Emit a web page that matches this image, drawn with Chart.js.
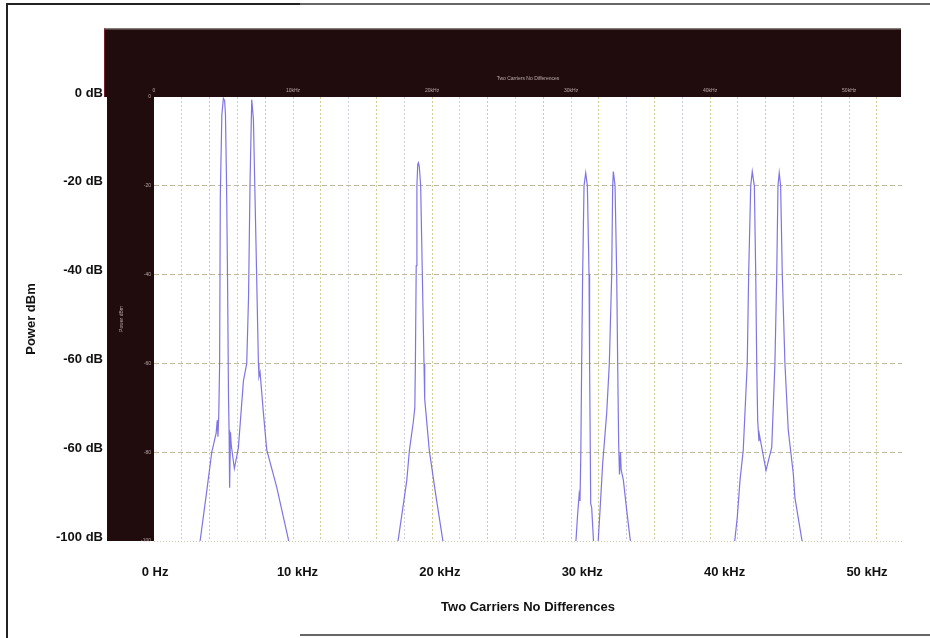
<!DOCTYPE html>
<html>
<head>
<meta charset="utf-8">
<title>Two Carriers No Differences</title>
<script src="https://cdn.jsdelivr.net/npm/chart.js@4.4.1/dist/chart.umd.min.js"></script>
<style>
  html, body { margin: 0; padding: 0; background: #ffffff; }
  #wrap { width: 930px; height: 638px; }
</style>
</head>
<body>
<div id="wrap"><canvas id="spectrum" width="930" height="638"></canvas></div>
<script>
// Measured spectrum: frequency (kHz) and power (dB)
const freqKHz = [
  3.0, 3.32, 3.80, 4.16, 4.47, 4.55, 4.60, 4.66, 4.72, 4.77, 4.88, 4.99, 5.08, 5.14, 5.22, 5.29,
  5.36, 5.40, 5.44, 5.50, 5.56, 5.78, 6.07, 6.43, 6.67, 6.80, 6.91, 7.03, 7.15, 7.34, 7.51, 7.55,
  7.63, 7.87, 8.11, 8.83, 9.66, 10.0,
  17.2, 17.58, 18.18, 18.37, 18.65, 18.76, 18.80, 18.86, 18.91, 18.97, 19.02, 19.08, 19.18, 19.30,
  19.42, 19.47, 19.80, 20.29, 20.75, 21.1,
  30.2, 30.36, 30.47, 30.58, 30.64, 30.70, 30.76, 30.83, 30.93, 31.05, 31.17, 31.29, 31.33, 31.41,
  31.48, 31.62, 31.72, 31.85, 31.96, 32.08, 32.27, 32.56, 32.75, 32.92, 32.99, 33.04, 33.16, 33.28,
  33.35, 33.42, 33.48, 33.55, 33.60, 33.76, 34.0, 34.24, 34.6,
  41.5, 41.79, 41.95, 42.15, 42.38, 42.67, 42.77, 42.92, 43.03, 43.18, 43.28, 43.35, 43.42, 43.51,
  43.54, 44.02, 44.43, 44.66, 44.79, 44.88, 44.97, 45.07, 45.19, 45.38, 45.62, 45.98, 46.10, 46.58,
  47.0
];
const powerDb = [
  -106, -99.9, -88.6, -79.9, -75.7, -72.8, -76.5, -71.5, -60, -22, -4, -0.3, -0.8, -4, -20, -41,
  -68, -75, -88, -75.5, -78.5, -83.7, -79, -64, -60, -45, -18.7, -0.6, -5, -33.7, -60, -63,
  -62, -71.2, -79.5, -87.9, -99.6, -106,
  -106, -99.4, -86.4, -79.6, -73.2, -70, -60, -38, -20, -15.2, -14.8, -15.6, -20, -40,
  -60, -68, -79.6, -90.1, -99.4, -106,
  -106, -99.4, -94, -89.5, -91, -80, -60, -40, -20, -17.1, -20, -40, -60, -91.6,
  -92.5, -100.5, -104, -104, -99.4, -93.1, -82.6, -71.2, -60, -40, -20, -16.8, -20, -40,
  -60, -78, -85, -80, -84, -86.3, -93.1, -99.4, -106,
  -106, -99.4, -94.7, -86.3, -79.6, -60, -40, -20, -16.8, -20, -40, -60, -72.8, -77.5,
  -76, -84.1, -78.9, -60, -40, -20, -17.1, -20, -40, -60, -75.1, -84.8, -90.3, -99.4,
  -106
];

// Printed axis ticks and labels
const outerFreqTicks = [0, 10, 20, 30, 40, 50];
const outerFreqLabels = ['0 Hz', '10 kHz', '20 kHz', '30 kHz', '40 kHz', '50 kHz'];
const powerTicks = [-100, -80, -60, -40, -20, 0];
const powerLabels = ['-100 dB', '-60 dB', '-60 dB', '-40 dB', '-20 dB', '0 dB'];
const innerPowerLabels = ['-100', '-80', '-60', '-40', '-20', '0'];
// Instrument grid (every 2 kHz) and its small scale labels
const gridFreqTicks = [0, 2, 4, 6, 8, 10, 12, 14, 16, 18, 20, 22, 24, 26, 28, 30, 32, 34, 36, 38, 40, 42, 44, 46, 48, 50, 52];
const innerFreqTicks = [0, 10, 20, 30, 40, 50];
const innerFreqLabels = ['0', '10kHz', '20kHz', '30kHz', '40kHz', '50kHz'];

const points = freqKHz.map((f, i) => ({ x: f, y: powerDb[i] }));

const FONT = '"Liberation Sans", Arial, Helvetica, sans-serif';
const bigFont = { family: FONT, size: 13, weight: 'bold' };
const tinyFont = { family: FONT, size: 5 };
const tinyColor = 'rgba(225,210,210,0.75)';

function labelFor(ticks, labels, v) {
  const i = ticks.findIndex(t => Math.abs(t - v) < 1e-6);
  return i < 0 ? '' : labels[i];
}

// Dark instrument frame behind the plot, and the page border
const framePlugin = {
  id: 'instrumentFrame',
  beforeDraw(chart) {
    const { ctx, chartArea: a, scales } = chart;
    ctx.save();
    ctx.fillStyle = '#ffffff';
    ctx.fillRect(0, 0, chart.width, chart.height);
    const left = scales.y.left;
    const top = scales.x.top;
    ctx.fillStyle = '#210c0d';
    ctx.fillRect(left - 3, top, a.right - left + 2, a.top - top);
    ctx.fillRect(left, top, a.left - left, a.bottom - top);
    ctx.fillStyle = 'rgba(160,150,150,0.8)';
    ctx.fillRect(left - 3, top, a.right - left + 2, 1.5);
    ctx.fillStyle = 'rgba(150,40,60,0.7)';
    ctx.fillRect(left - 3, top, 1, a.top - top);
    ctx.fillStyle = '#ffffff';
    ctx.fillRect(a.left, a.top, a.right - a.left, a.bottom - a.top);
    ctx.restore();
  },
  afterDraw(chart) {
    const { ctx } = chart;
    ctx.save();
    ctx.strokeStyle = '#222222';
    ctx.lineWidth = 2;
    ctx.beginPath();
    ctx.moveTo(7, chart.height);
    ctx.lineTo(7, 4);
    ctx.lineTo(300, 4);
    ctx.stroke();
    ctx.strokeStyle = '#666666';
    ctx.beginPath();
    ctx.moveTo(300, 4);
    ctx.lineTo(chart.width, 4);
    ctx.moveTo(300, chart.height - 3);
    ctx.lineTo(chart.width, chart.height - 3);
    ctx.stroke();
    ctx.restore();
  }
};

new Chart(document.getElementById('spectrum'), {
  type: 'line',
  data: {
    datasets: [{
      label: 'Power',
      data: points,
      borderColor: 'rgba(112,102,226,0.9)',
      borderWidth: 1.2,
      pointRadius: 0,
      tension: 0,
      fill: false
    }]
  },
  options: {
    responsive: false,
    devicePixelRatio: 1,
    animation: false,
    layout: { padding: { left: 12, right: 28, top: 28, bottom: 17 } },
    plugins: {
      legend: { display: false },
      tooltip: { enabled: false }
    },
    scales: {
      x: {
        type: 'linear',
        position: 'top',
        weight: 0,
        min: 0,
        max: 53.8,
        afterBuildTicks: s => { s.ticks = gridFreqTicks.map(v => ({ value: v })); },
        afterFit: s => { s.height = 69; },
        grid: {
          drawTicks: false,
          lineWidth: 1,
          color: c => {
            const v = c.tick ? c.tick.value : 1;
            if (v === 0) return 'rgba(0,0,0,0)';
            return (v % 4 === 0) ? 'rgba(205,196,140,0.9)' : 'rgba(200,198,218,0.9)';
          }
        },
        border: { display: false, dash: [2, 2] },
        ticks: {
          font: tinyFont,
          color: tinyColor,
          padding: 3,
          maxRotation: 0,
          autoSkip: false,
          callback: v => labelFor(innerFreqTicks, innerFreqLabels, v)
        },
        title: {
          display: true,
          text: 'Two Carriers No Differences',
          font: tinyFont,
          color: tinyColor,
          padding: { top: 48, bottom: 0 }
        }
      },
      y: {
        type: 'linear',
        position: 'left',
        weight: 0,
        min: -100,
        max: 0,
        afterBuildTicks: s => { s.ticks = powerTicks.map(v => ({ value: v })); },
        afterFit: s => { s.width = 47; },
        grid: {
          drawTicks: false,
          lineWidth: 1,
          color: c => {
            const v = c.tick ? c.tick.value : -50;
            if (v === 0) return 'rgba(0,0,0,0)';
            if (v === -100) return 'rgba(200,196,170,0.9)';
            return 'rgba(185,180,150,0.9)';
          }
        },
        border: {
          display: false,
          dash: c => (c.tick && c.tick.value === -100) ? [1, 2] : [5, 3]
        },
        ticks: {
          font: tinyFont,
          color: tinyColor,
          padding: 3,
          autoSkip: false,
          callback: v => labelFor(powerTicks, innerPowerLabels, v)
        },
        title: {
          display: true,
          text: 'Power dBm',
          font: tinyFont,
          color: tinyColor,
          padding: { top: 12, bottom: 0 }
        }
      },
      yOuter: {
        type: 'linear',
        position: 'left',
        weight: 1,
        min: -100,
        max: 0,
        afterBuildTicks: s => { s.ticks = powerTicks.map(v => ({ value: v })); },
        afterFit: s => { s.width = 95; },
        grid: { display: false, drawTicks: false },
        border: { display: false },
        ticks: {
          font: bigFont,
          color: '#111111',
          padding: 4,
          labelOffset: -4,
          autoSkip: false,
          callback: v => labelFor(powerTicks, powerLabels, v)
        },
        title: {
          display: true,
          text: 'Power dBm',
          font: bigFont,
          color: '#111111',
          padding: { top: 12, bottom: 0 }
        }
      },
      xOuter: {
        type: 'linear',
        position: 'bottom',
        weight: 1,
        min: -0.077,
        max: 52.46,
        afterBuildTicks: s => { s.ticks = outerFreqTicks.map(v => ({ value: v })); },
        afterFit: s => { s.height = 80; },
        grid: { display: false, drawTicks: false },
        border: { display: false },
        ticks: {
          font: bigFont,
          color: '#111111',
          padding: 24,
          maxRotation: 0,
          autoSkip: false,
          callback: v => labelFor(outerFreqTicks, outerFreqLabels, v)
        },
        title: {
          display: true,
          text: 'Two Carriers No Differences',
          font: bigFont,
          color: '#111111',
          padding: { top: 0, bottom: 6 }
        }
      }
    }
  },
  plugins: [framePlugin]
});
</script>
</body>
</html>
